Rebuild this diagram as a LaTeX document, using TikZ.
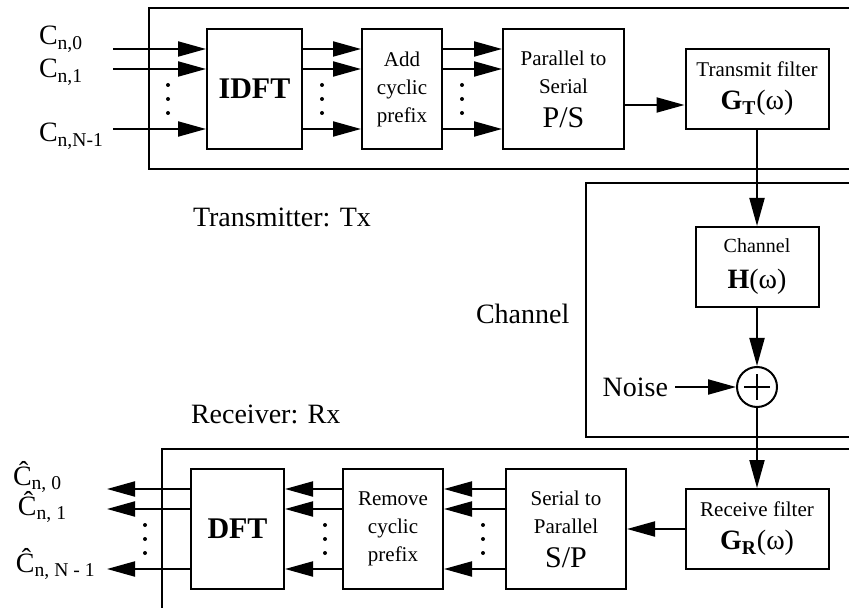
\documentclass[tikz,border=0pt]{standalone}
\usepackage{amsmath}
\usepackage{fontspec}
\setmainfont{Liberation Serif}
\usetikzlibrary{arrows.meta}

\begin{document}
\begin{tikzpicture}[x=0.5pt,y=-0.5pt,line width=1pt,
    font=\fontsize{14}{17}\selectfont,
    >={Triangle[length=14pt,width=7.5pt]},
    blk/.style={draw,minimum width=#1,minimum height=60pt,inner sep=0pt,
        align=center,font=\fontsize{10.5}{14}\selectfont},
    filt/.style={draw,minimum width=71.5pt,minimum height=40pt,inner sep=0pt,
        align=center,font=\fontsize{10.5}{16.5}\selectfont},
    big/.style={font=\bfseries\fontsize{15}{15}\selectfont}]
    \useasboundingbox (0,0) rectangle (849,608);
    \clip (0,0) rectangle (849,608);

    % transmitter
    \draw (149,8) rectangle (880,169);
    \node[blk=47.5pt,big] (IDFT) at (254.5,89) {IDFT};
    \node[blk=40pt] (ACP) at (402,89) {Add\\cyclic\\prefix};
    \node[blk=60.5pt] (PS) at (563.5,89) {Parallel to\\Serial\\[3pt]{\fontsize{15}{15}\selectfont P/S}};
    \node[filt] (GT) at (757,89) {Transmit filter\\{\fontsize{14}{14}\selectfont\textbf{G}$_{\textbf{T}}$(ω)}};
    \coordinate (IN) at (113,89);
    \foreach \d in {20,10,-20}{
        \draw[->] ([yshift=\d pt]IN) -- ([yshift=\d pt]IDFT.west);
        \draw[->] ([yshift=\d pt]IDFT.east) -- ([yshift=\d pt]ACP.west);
        \draw[->] ([yshift=\d pt]ACP.east) -- ([yshift=\d pt]PS.west);
    }
    \draw[->] ([yshift=-8pt]PS.east) -- ([yshift=-8pt]GT.west);
    \foreach \x in {168,322,462}{
        \foreach \y in {85,99,113}{
            \fill (\x,\y) circle (1pt);
        }
    }
    \node (C0) at (38,45)[anchor=base west,inner sep=0pt]{C$_{\text{n,0}}$};
    \node (C1) at (38,78)[anchor=base west,inner sep=0pt]{C$_{\text{n,1}}$};
    \node (CN) at (38,142)[anchor=base west,inner sep=0pt]{C$_{\text{n,N-1}}$};
    \node (TX) at (192,217)[anchor=west,inner sep=0pt]{Transmitter: Tx};

    % channel
    \draw (586,183) rectangle (880,437);
    \node (CH) at (475,314)[anchor=west,inner sep=0pt]{Channel};
    \node[draw,minimum width=61.5pt,minimum height=40pt,inner sep=0pt,align=center,
        font=\fontsize{10}{18}\selectfont] (H) at (757,267)
        {Channel\\{\fontsize{14}{14}\selectfont\textbf{H}(ω)}};
    \node[draw,circle,minimum size=20pt,inner sep=0pt] (SUM) at (757,387){};
    \draw (SUM.center) ++(-13,0) -- ++(26,0);
    \draw (SUM.center) ++(0,-13) -- ++(0,26);
    \node (NOISE) at (675,387)[anchor=east,inner sep=3pt]{Noise};
    \draw[->] (GT.south) -- (H.north);
    \draw[->] (H.south) -- (SUM.north);
    \draw[->] (NOISE.east) -- (SUM.west);

    % receiver
    \draw (162,449) rectangle (880,640);
    \node (RX) at (190,414)[anchor=west,inner sep=0pt]{Receiver: Rx};
    \node[filt] (GR) at (757,529) {Receive filter\\{\fontsize{14}{14}\selectfont\textbf{G}$_{\textbf{R}}$(ω)}};
    \node[blk=60pt] (SP) at (566,529) {Serial to\\Parallel\\[3pt]{\fontsize{15}{15}\selectfont S/P}};
    \node[blk=50pt] (RCP) at (393,529) {Remove\\cyclic\\prefix};
    \node[blk=46.5pt,big] (DFT) at (237.5,529) {DFT};
    \coordinate (OUT) at (107,529);
    \draw[->] (SUM.south) -- (GR.north);
    \draw[->] (GR.west) -- (SP.east);
    \foreach \d in {20,10,-20}{
        \draw[->] ([yshift=\d pt]SP.west) -- ([yshift=\d pt]RCP.east);
        \draw[->] ([yshift=\d pt]RCP.west) -- ([yshift=\d pt]DFT.east);
        \draw[->] ([yshift=\d pt]DFT.west) -- ([yshift=\d pt]OUT);
    }
    \foreach \x in {145,325,483}{
        \foreach \y in {525,539,553}{
            \fill (\x,\y) circle (1pt);
        }
    }
    \node (D0) at (12,485)[anchor=base west,inner sep=0pt]{Ĉ$_{\text{n, 0}}$};
    \node (D1) at (17,515)[anchor=base west,inner sep=0pt]{Ĉ$_{\text{n, 1}}$};
    \node (DN) at (15,572)[anchor=base west,inner sep=0pt]{Ĉ$_{\text{n, N - 1}}$};
\end{tikzpicture}
\end{document}
